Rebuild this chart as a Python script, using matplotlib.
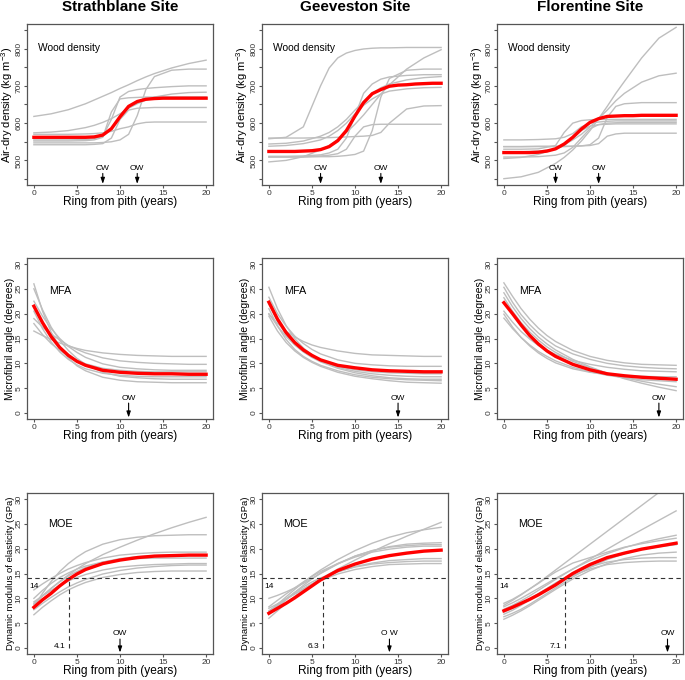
import matplotlib
matplotlib.use("Agg")
import matplotlib.pyplot as plt

plt.rcParams['font.family'] = ['Liberation Sans', 'DejaVu Sans']
plt.rcParams['mathtext.fontset'] = 'custom'
plt.rcParams['mathtext.rm'] = 'Liberation Sans'
plt.rcParams['mathtext.it'] = 'Liberation Sans:italic'

# ---- datos ----
sites = ['Strathblane Site', 'Geeveston Site', 'Florentine Site']

# anos (anillo desde la medula) donde se leyeron los valores
dens_years = [0, 2, 4, 6, 7, 8, 9, 10, 11, 12, 13, 14, 16, 18, 20]
mean_years = list(range(0, 21))
curve_years = [0, 1, 2, 3, 4, 5, 6, 8, 10, 12, 14, 16, 18, 20]

# densidad (kg m-3): arboles individuales (gris) y media (rojo)
dens_strath_trees = [
    [618, 625, 636, 652, 662, 672, 682, 693, 703, 714, 724, 733, 748, 760, 769],
    [547, 547, 547, 547, 547, 548, 550, 555, 570, 620, 690, 725, 742, 745, 745],
    [555, 555, 555, 556, 558, 565, 610, 670, 685, 690, 693, 695, 698, 700, 700],
    [574, 576, 580, 588, 594, 602, 612, 625, 640, 652, 662, 670, 678, 682, 683],
    [542, 542, 542, 542, 543, 545, 560, 610, 635, 640, 641, 642, 642, 642, 642],
    [570, 570, 570, 571, 572, 574, 578, 585, 590, 598, 602, 603, 603, 603, 603],
    [552, 552, 552, 553, 555, 562, 630, 665, 668, 669, 670, 670, 670, 670, 670],
]
dens_strath_mean = [562, 562, 562, 562, 562, 562, 562, 563, 568, 585, 617,
                    645, 658, 664, 666, 667, 667, 667, 667, 667, 667]

dens_geev_trees = [
    [558, 562, 590, 700, 748, 775, 788, 795, 799, 801, 802, 802, 803, 803, 803],
    [496, 500, 510, 528, 540, 556, 575, 597, 622, 650, 678, 703, 745, 775, 797],
    [509, 509, 509, 510, 510, 511, 513, 516, 525, 580, 670, 720, 742, 745, 745],
    [511, 511, 512, 515, 520, 530, 560, 620, 680, 705, 718, 724, 728, 730, 730],
    [544, 546, 552, 565, 575, 590, 610, 635, 658, 680, 695, 705, 716, 722, 725],
    [538, 540, 545, 555, 565, 580, 600, 625, 648, 665, 678, 686, 692, 695, 696],
    [560, 560, 560, 561, 561, 562, 563, 564, 565, 567, 575, 600, 638, 646, 647],
    [509, 509, 510, 512, 514, 518, 530, 565, 590, 596, 597, 597, 597, 597, 597],
]
dens_geev_mean = [524, 524, 524, 524, 525, 526, 529, 537, 553, 580, 619,
                  655, 679, 690, 699, 702, 703, 705, 706, 707, 707]

dens_flor_trees = [
    [451, 456, 468, 492, 508, 528, 552, 580, 612, 645, 680, 712, 775, 828, 857],
    [505, 508, 516, 532, 542, 555, 570, 590, 612, 635, 660, 680, 710, 727, 734],
    [537, 537, 537, 537, 537, 538, 539, 542, 560, 615, 645, 652, 655, 655, 655],
    [530, 530, 531, 540, 575, 600, 607, 609, 610, 610, 610, 610, 610, 610, 610],
    [537, 537, 538, 538, 538, 538, 539, 540, 545, 565, 571, 573, 573, 573, 573],
    [555, 555, 556, 558, 562, 572, 590, 600, 603, 605, 606, 606, 606, 606, 606],
    [509, 509, 510, 514, 520, 535, 560, 585, 596, 600, 601, 602, 602, 602, 602],
    [522, 523, 525, 530, 540, 560, 580, 592, 596, 597, 598, 598, 598, 598, 598],
]
dens_flor_mean = [521, 521, 521, 521, 522, 525, 531, 544, 562, 584, 602,
                  612, 618, 619, 620, 620, 621, 621, 621, 621, 621]

# angulo de microfibrillas (grados)
mfa_strath_trees = [
    [16.5, 15.6, 14.8, 14.1, 13.5, 13.0, 12.6, 12.1, 11.8, 11.6, 11.5, 11.4, 11.4, 11.4],
    [19.0, 17.3, 15.9, 14.7, 13.6, 12.8, 12.1, 11.1, 10.5, 10.2, 10.0, 9.9, 9.8, 9.8],
    [26.0, 20.5, 16.3, 13.3, 11.1, 9.5, 8.5, 7.2, 6.6, 6.3, 6.2, 6.1, 6.1, 6.1],
    [25.0, 20.8, 17.3, 14.6, 12.6, 11.0, 9.8, 8.2, 7.4, 7.1, 6.9, 6.8, 6.8, 6.8],
    [22.5, 19.5, 17.0, 15.0, 13.4, 12.2, 11.2, 9.9, 9.2, 8.9, 8.7, 8.6, 8.6, 8.6],
    [20.5, 17.0, 14.3, 12.3, 10.8, 9.7, 8.9, 8.0, 7.6, 7.4, 7.3, 7.3, 7.3, 7.3],
    [18.0, 15.8, 14.0, 12.6, 11.5, 10.6, 9.9, 9.0, 8.6, 8.4, 8.3, 8.3, 8.3, 8.3],
]
mfa_strath_mean = [21.5, 18.2, 15.4, 13.2, 11.6, 10.4, 9.6, 8.6, 8.2, 8.0, 7.9, 7.9, 7.8, 7.8]

mfa_geev_trees = [
    [19.9, 18.0, 16.5, 15.3, 14.4, 13.7, 13.2, 12.5, 12.0, 11.7, 11.6, 11.5, 11.4, 11.4],
    [25.3, 21.0, 17.6, 15.0, 13.1, 11.7, 10.6, 9.2, 8.4, 7.9, 7.6, 7.4, 7.3, 7.3],
    [23.3, 20.0, 17.5, 15.5, 14.0, 12.8, 11.9, 10.7, 10.0, 9.7, 9.5, 9.4, 9.4, 9.4],
    [19.5, 16.5, 14.2, 12.5, 11.2, 10.2, 9.4, 8.2, 7.4, 6.9, 6.5, 6.2, 6.1, 6.0],
    [20.0, 17.5, 15.4, 13.7, 12.3, 11.2, 10.3, 9.0, 8.1, 7.5, 7.1, 6.9, 6.8, 6.8],
    [22.0, 18.5, 15.8, 13.8, 12.4, 11.3, 10.5, 9.4, 8.7, 8.3, 8.1, 8.0, 7.9, 7.9],
    [21.0, 17.5, 14.8, 12.8, 11.4, 10.4, 9.6, 8.5, 7.7, 7.2, 6.9, 6.7, 6.6, 6.5],
]
mfa_geev_mean = [22.3, 18.9, 16.2, 14.2, 12.7, 11.6, 10.7, 9.6, 9.1, 8.7, 8.5, 8.4, 8.3, 8.3]

mfa_flor_trees = [
    [26.2, 23.5, 21.0, 18.9, 17.1, 15.6, 14.4, 12.6, 11.4, 10.6, 10.1, 9.8, 9.7, 9.6],
    [25.3, 22.3, 19.8, 17.8, 16.1, 14.7, 13.5, 11.9, 10.8, 10.0, 9.5, 9.2, 9.0, 8.9],
    [24.2, 21.4, 19.0, 17.0, 15.3, 13.9, 12.7, 10.8, 9.3, 8.0, 6.9, 6.0, 5.2, 4.5],
    [23.2, 20.5, 18.2, 16.3, 14.7, 13.3, 12.2, 10.4, 9.1, 8.0, 7.1, 6.4, 5.8, 5.3],
    [20.5, 18.3, 16.4, 14.9, 13.6, 12.6, 11.8, 10.6, 9.8, 9.2, 8.8, 8.5, 8.4, 8.3],
    [19.9, 17.3, 15.2, 13.5, 12.1, 11.0, 10.1, 8.9, 8.2, 7.8, 7.5, 7.4, 7.3, 7.3],
    [19.1, 17.0, 15.2, 13.7, 12.4, 11.4, 10.5, 9.2, 8.3, 7.6, 7.1, 6.7, 6.5, 6.3],
]
mfa_flor_mean = [22.2, 20.0, 17.7, 15.6, 13.9, 12.5, 11.4, 9.8, 8.7, 7.9, 7.5, 7.2, 7.0, 6.8]

# modulo de elasticidad dinamico (GPa)
moe_strath_trees = [
    [9.0, 10.5, 12.0, 13.4, 14.7, 15.9, 17.0, 18.8, 20.3, 21.7, 23.0, 24.2, 25.3, 26.3],
    [8.3, 11.0, 13.4, 15.4, 17.0, 18.3, 19.4, 20.9, 21.8, 22.3, 22.6, 22.7, 22.8, 22.8],
    [11.7, 12.9, 14.0, 15.0, 15.9, 16.6, 17.2, 18.1, 18.7, 19.0, 19.2, 19.3, 19.3, 19.3],
    [10.0, 11.6, 13.0, 14.2, 15.1, 15.9, 16.5, 17.3, 17.8, 18.0, 18.1, 18.1, 18.1, 18.1],
    [9.3, 10.5, 11.6, 12.6, 13.5, 14.2, 14.8, 15.7, 16.3, 16.6, 16.8, 16.9, 17.0, 17.0],
    [7.7, 9.0, 10.2, 11.3, 12.3, 13.1, 13.8, 14.9, 15.6, 16.1, 16.4, 16.6, 16.7, 16.7],
    [6.7, 8.2, 9.5, 10.7, 11.7, 12.5, 13.2, 14.2, 14.8, 15.2, 15.4, 15.5, 15.5, 15.5],
    [8.8, 10.5, 12.0, 13.3, 14.5, 15.4, 16.2, 17.3, 18.0, 18.4, 18.6, 18.7, 18.8, 18.8],
]
moe_strath_mean = [8.2, 9.7, 11.0, 12.5, 13.8, 14.9, 15.8, 17.0, 17.7, 18.2, 18.5, 18.6, 18.7, 18.7]

moe_geev_trees = [
    [8.0, 8.9, 9.9, 10.9, 11.9, 12.9, 13.9, 15.9, 17.7, 19.4, 21.0, 22.5, 23.9, 25.3],
    [7.3, 8.8, 10.3, 11.8, 13.2, 14.5, 15.7, 17.8, 19.6, 21.1, 22.3, 23.2, 23.8, 24.3],
    [10.0, 10.6, 11.3, 12.1, 13.0, 14.0, 15.0, 16.9, 18.5, 19.6, 20.4, 20.9, 21.1, 21.2],
    [6.7, 8.2, 9.7, 11.2, 12.6, 13.9, 15.1, 17.0, 18.5, 19.6, 20.3, 20.6, 20.8, 20.8],
    [8.3, 9.6, 10.9, 12.1, 13.3, 14.4, 15.4, 17.0, 18.3, 19.3, 19.9, 20.3, 20.5, 20.5],
    [6.0, 7.5, 9.0, 10.4, 11.7, 12.8, 13.8, 15.3, 16.4, 17.1, 17.6, 17.8, 18.0, 18.0],
    [7.0, 8.5, 9.9, 11.2, 12.3, 13.3, 14.1, 15.4, 16.3, 16.9, 17.2, 17.4, 17.5, 17.5],
    [7.5, 8.7, 9.8, 10.9, 11.9, 12.8, 13.6, 14.9, 15.8, 16.4, 16.8, 16.9, 17.0, 17.0],
]
moe_geev_mean = [7.0, 8.0, 9.0, 10.1, 11.3, 12.5, 13.7, 15.6, 16.9, 17.9, 18.6, 19.1, 19.5, 19.7]

moe_flor_trees = [
    [8.6, 9.6, 10.7, 11.9, 13.1, 14.4, 15.7, 18.3, 20.9, 23.5, 26.1, 28.7, 31.3, 33.9],
    [7.8, 8.6, 9.5, 10.5, 11.6, 12.7, 13.8, 15.9, 17.9, 19.9, 21.9, 23.8, 25.7, 27.6],
    [8.3, 9.1, 10.0, 11.0, 12.0, 13.0, 14.0, 15.9, 17.6, 19.0, 20.2, 21.2, 22.0, 22.7],
    [9.0, 9.8, 10.8, 11.9, 13.0, 14.2, 15.3, 17.1, 18.2, 19.3, 20.3, 21.0, 21.6, 22.1],
    [6.3, 7.0, 7.8, 8.8, 9.9, 11.0, 12.1, 14.3, 16.2, 17.8, 19.0, 19.9, 20.4, 20.8],
    [5.8, 6.6, 7.5, 8.5, 9.6, 10.7, 11.8, 13.9, 15.6, 17.0, 18.0, 18.7, 19.1, 19.3],
    [6.8, 7.6, 8.6, 9.7, 10.9, 12.0, 13.1, 15.0, 16.4, 17.3, 17.8, 18.1, 18.2, 18.2],
    [7.2, 8.0, 8.9, 9.9, 10.9, 11.9, 12.9, 14.6, 15.9, 16.8, 17.2, 17.4, 17.5, 17.5],
]
moe_flor_mean = [7.5, 8.2, 9.0, 9.8, 10.7, 11.7, 12.7, 15.0, 16.8, 18.2, 19.1, 19.9, 20.5, 21.1]

# marcas de madera de compresion (CW) y opuesta (OW)
cw_ring = [8, 6, 6]
ow_dens = [12, 13, 11]
ow_mfa = [11, 15, 18]
ow_moe = [10, 14, 19]
ow_moe_label = ['OW', 'O W', 'OW']
moe_threshold = 14
moe_ring_at_14 = [4.1, 6.3, 7.1]

dens_trees = [dens_strath_trees, dens_geev_trees, dens_flor_trees]
dens_mean = [dens_strath_mean, dens_geev_mean, dens_flor_mean]
mfa_trees = [mfa_strath_trees, mfa_geev_trees, mfa_flor_trees]
mfa_mean = [mfa_strath_mean, mfa_geev_mean, mfa_flor_mean]
moe_trees = [moe_strath_trees, moe_geev_trees, moe_flor_trees]
moe_mean = [moe_strath_mean, moe_geev_mean, moe_flor_mean]

GRIS = '#bebebe'
EJE = '#555555'

fig = plt.figure(figsize=(6.85, 6.8), dpi=100)
W, H = 685.0, 680.0
col_left = [27, 262, 497]
row_top = [24, 258, 493]
ancho, alto = 186, 161


def estilo(ax, ylim, yticks, ylabels, ylabel, ysize):
    ax.set_xlim(-0.8, 20.8)
    ax.set_ylim(*ylim)
    ax.set_xticks([0, 5, 10, 15, 20])
    ax.set_yticks(yticks)
    ax.set_yticklabels(ylabels)
    for s in ax.spines.values():
        s.set_color(EJE)
        s.set_linewidth(0.9)
    ax.tick_params(direction='out', length=2.5, width=0.8, color=EJE,
                   labelsize=6, labelcolor='#333333', pad=0.8)
    for lab in ax.get_yticklabels():
        lab.set_rotation(90)
        lab.set_va('center')
    ax.set_xlabel('Ring from pith (years)', fontsize=8.6)
    ax.xaxis.set_label_coords(0.5, -0.068)
    ax.set_ylabel(ylabel, fontsize=ysize)
    ax.yaxis.set_label_coords(-0.062, 0.5)


def flecha(ax, x, y_txt, y0, y1, texto):
    ax.text(x, y_txt, texto, ha='center', va='center', fontsize=6)
    ax.annotate('', xy=(x, y1), xytext=(x, y0),
                arrowprops=dict(arrowstyle='-|>,head_length=0.35,head_width=0.12',
                                color='black', lw=0.8, shrinkA=0, shrinkB=0))


for c in range(3):
    axs = []
    for r in range(3):
        left = col_left[c] / W
        bottom = 1 - (row_top[r] + alto) / H
        axs.append(fig.add_axes([left, bottom, ancho / W, alto / H]))

    # densidad
    ax = axs[0]
    for t in dens_trees[c]:
        ax.plot(dens_years, t, color=GRIS, lw=1.0)
    ax.plot(mean_years, dens_mean[c], color='red', lw=2.4)
    estilo(ax, (434, 866), list(range(450, 851, 50)),
           ['', '500', '', '600', '', '700', '', '800', ''],
           'Air-dry density (kg m$^{-3}$)', 8.0)
    ax.text(0.45, 802, 'Wood density', fontsize=7.4, va='center')
    flecha(ax, cw_ring[c], 479, 465, 437, 'CW')
    flecha(ax, ow_dens[c], 479, 465, 437, 'OW')
    ax.set_title(sites[c], fontsize=11, fontweight='bold', pad=9)

    # MFA
    ax = axs[1]
    for t in mfa_trees[c]:
        ax.plot(curve_years, t, color=GRIS, lw=1.0)
    ax.plot(curve_years, mfa_mean[c], color='red', lw=2.4)
    estilo(ax, (-1.2, 31.2), list(range(0, 31, 5)),
           [str(v) for v in range(0, 31, 5)], 'Microfibril angle (degrees)', 7.6)
    ax.text(1.8, 24.6, 'MFA', fontsize=7.8, va='center')
    flecha(ax, ow_mfa[c], 3.0, 2.0, -0.9, 'OW')

    # MOE
    ax = axs[2]
    for t in moe_trees[c]:
        ax.plot(curve_years, t, color=GRIS, lw=1.0)
    ax.plot(curve_years, moe_mean[c], color='red', lw=2.4)
    estilo(ax, (-1.2, 31.2), list(range(0, 31, 5)),
           [str(v) for v in range(0, 31, 5)], 'Dynamic modulus of elasticity (GPa)', 6.8)
    ax.axhline(moe_threshold, color='#333333', lw=0.8, ls=(0, (4, 3)))
    ax.plot([moe_ring_at_14[c], moe_ring_at_14[c]], [0, moe_threshold],
            color='#333333', lw=0.8, ls=(0, (4, 3)))
    ax.text(0, moe_threshold - 1.7, str(moe_threshold), fontsize=6, ha='center', va='center')
    ax.text(moe_ring_at_14[c] - 0.4, 0.3, str(moe_ring_at_14[c]), fontsize=6,
            ha='right', va='center')
    ax.text(1.7, 24.9, 'MOE', fontsize=7.8, va='center')
    flecha(ax, ow_moe[c], 2.9, 1.8, -0.9, ow_moe_label[c])

fig.savefig('out.png', dpi=100)
